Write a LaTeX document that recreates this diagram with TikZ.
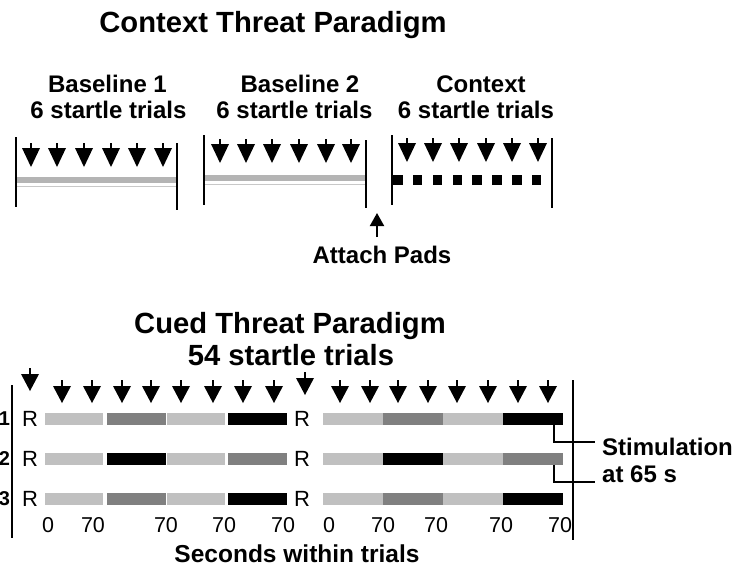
\documentclass[tikz,border=0pt]{standalone}
\usepackage{fontspec}
\setmainfont{Liberation Sans}
\usetikzlibrary{arrows.meta}
\definecolor{lightbar}{HTML}{C0C0C0}
\definecolor{darkbar}{HTML}{808080}
\definecolor{bandgray}{HTML}{B4B4B4}
\definecolor{thingray}{HTML}{C8C8C8}
\tikzset{
  topmark/.pic={\draw[line width=2pt] (0,-24) -- (0,-15); \fill (-9,-19) -- (9,-19) -- (0,0) -- cycle;},
  cuemark/.pic={\draw[line width=2pt] (0,-23) -- (0,-12); \fill (-9,-17) -- (9,-17) -- (0,0) -- cycle;},
  lbl/.style={font=\fontsize{24}{26}\selectfont\bfseries, inner sep=0pt, anchor=base},
  ttl/.style={font=\fontsize{29.2}{31}\selectfont\bfseries, inner sep=0pt, anchor=base},
  num/.style={font=\fontsize{21.5}{23}\selectfont, inner sep=0pt, anchor=base},
  rlab/.style={font=\fontsize{22}{24}\selectfont, inner sep=0pt},
  rowno/.style={font=\fontsize{20}{22}\selectfont\bfseries, inner sep=0pt, anchor=east},
  vline/.style={line width=2pt},
  conn/.style={line width=1.6pt},
}
\begin{document}
\begin{tikzpicture}[x=1pt,y=-1pt]
\useasboundingbox (0,0) rectangle (743,568);

% ---------- Context threat paradigm ----------
\node[ttl] (ctitle) at (273,32) {Context Threat Paradigm};
\node[lbl] (b1a) at (107.5,92) {Baseline 1};
\node[lbl] (b1b) at (108.5,118) {6 startle trials};
\node[lbl] (b2a) at (300,92) {Baseline 2};
\node[lbl] (b2b) at (294.5,118) {6 startle trials};
\node[lbl] (cxa) at (481,92) {Context};
\node[lbl] (cxb) at (476,118) {6 startle trials};

% panel 1
\draw[vline] (16,137) -- (16,207);
\draw[vline] (177,143) -- (177,210);
\fill[bandgray] (17,177) rectangle (176,183);
\draw[thingray, line width=1pt] (17,186) -- (176,186);
\foreach \x in {31,57,84,111,137,163} \pic at (\x,167) {topmark};

% panel 2
\draw[vline] (204,135) -- (204,205);
\draw[vline] (366,140) -- (366,208);
\fill[bandgray] (205,175) rectangle (365,180.5);
\draw[thingray, line width=1pt] (205,184) -- (365,184);
\foreach \x in {220,246,272,299,326,351} \pic at (\x,163) {topmark};

% panel 3
\draw[vline] (392,135) -- (392,205);
\draw[vline] (552,138) -- (552,208);
\foreach \i in {0,...,7} \fill ({393+\i*19.85},175) rectangle ({402.5+\i*19.85},185);
\foreach \x in {407,433,459,486,512,538} \pic at (\x,162) {topmark};

% attach pads
\node[lbl] (attach) at (382,263) {Attach Pads};
\coordinate (attachtip) at (377,213);
\coordinate (attachbase) at (377,237);
\draw[line width=2pt, -{Triangle[width=14pt,length=13pt]}] (attachbase) -- (attachtip);

% ---------- Cued threat paradigm ----------
\node[ttl] (qtitle) at (290,333) {Cued Threat Paradigm};
\node[ttl] (qsub) at (291,365) {54 startle trials};

\draw[vline] (12,385) -- (12,538);
\draw[vline] (573,380) -- (573,540);

% startle arrows
\pic at (30,391) {cuemark};
\pic at (305,395) {cuemark};
\foreach \x in {62,92,122,151,181,213,243,274,340,370,398,428,457,488,518,548}
  \pic at (\x,403) {cuemark};

% rows
\foreach \y/\n/\ca/\cb/\cc/\cd in {419/1/darkbar/black/darkbar/black, 459/2/black/darkbar/black/darkbar, 499/3/darkbar/black/darkbar/black}{
  \node[rowno] (row\n) at (10.2,\y) {\n};
  \node[rlab] (ra\n) at (30,\y) {R};
  \node[rlab] (rb\n) at (302,\y) {R};
  \fill[lightbar] (45,\y-6) rectangle (103,\y+6);
  \fill[\ca] (107,\y-6) rectangle (166,\y+6);
  \fill[lightbar] (167,\y-6) rectangle (225,\y+6);
  \fill[\cb] (228,\y-6) rectangle (287,\y+6);
  \fill[lightbar] (323,\y-6) rectangle (383,\y+6);
  \fill[\cc] (383,\y-6) rectangle (443,\y+6);
  \fill[lightbar] (443,\y-6) rectangle (503,\y+6);
  \fill[\cd] (503,\y-6) rectangle (563,\y+6);
}

% axis numbers
\foreach \x/\t [count=\k] in {48/0,93/70,166/70,224/70,283/70,329/0,383/70,436/70,501/70,560/70}
  \node[num] (n\k) at (\x,532) {\t};

\node[lbl, font=\fontsize{24.5}{26}\selectfont\bfseries] (secs) at (297,562) {Seconds within trials};

% stimulation
\node[lbl, anchor=base west] (stim) at (602,455) {Stimulation};
\node[lbl, anchor=base west] (stim2) at (602,482) {at 65 s};
\coordinate (s1) at (554,425);
\coordinate (s1e) at (595,442);
\coordinate (s2) at (554,465);
\coordinate (s2e) at (595,482);
\draw[conn] (s1) |- (s1e);
\draw[conn] (s2) |- (s2e);
\end{tikzpicture}
\end{document}
